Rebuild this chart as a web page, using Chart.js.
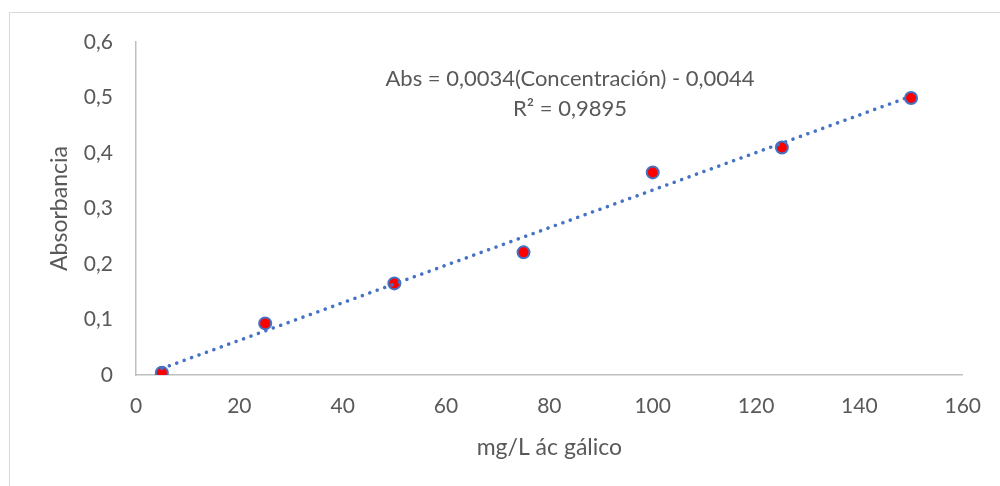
<!DOCTYPE html>
<html>
<head>
<meta charset="utf-8">
<script src="https://cdn.jsdelivr.net/npm/chart.js@4"></script>
<style>
  html, body { margin: 0; padding: 0; background: #fff; overflow: hidden; }
  #wrap { position: relative; width: 1000px; height: 486px; }
  #frame { position: absolute; left: 9px; top: 12px; width: 1100px; height: 600px; border: 1px solid #d9d9d9; }
  canvas { position: absolute; left: 0; top: 0; }
</style>
</head>
<body>
<div id="wrap">
  <div id="frame"></div>
  <canvas id="chart" width="1000" height="486"></canvas>
</div>
<script>
// Data
const concentracion = [5, 25, 50, 75, 100, 125, 150];
const absorbancia = [0.004, 0.093, 0.165, 0.221, 0.365, 0.410, 0.499];
const xTicks = [0, 20, 40, 60, 80, 100, 120, 140, 160];
const yTicks = [0, 0.1, 0.2, 0.3, 0.4, 0.5, 0.6];
const ecuacion = 'Abs = 0,0034(Concentración) - 0,0044';
const r2Texto = 'R² = 0,9895';

const FONT = 'Lato, "Open Sans", sans-serif';
const GRIS = '#595959';
const AZUL = '#4472c4';

// Linear trendline (least squares, same as the spreadsheet does)
function tendencia(xs, ys) {
    const n = xs.length;
    const mx = xs.reduce((a, b) => a + b, 0) / n;
    const my = ys.reduce((a, b) => a + b, 0) / n;
    let sxy = 0, sxx = 0;
    for (let i = 0; i < n; i++) {
        sxy += (xs[i] - mx) * (ys[i] - my);
        sxx += (xs[i] - mx) * (xs[i] - mx);
    }
    const m = sxy / sxx;
    const b = my - m * mx;
    const x0 = xs[0], x1 = xs[n - 1];
    return [{ x: x0, y: m * x0 + b }, { x: x1, y: m * x1 + b }];
}

const puntos = concentracion.map((c, i) => ({ x: c, y: absorbancia[i] }));

function coma(v) {
    const r = Math.round(v * 10) / 10;
    return String(r).replace('.', ',');
}

// Equation label placed in data coordinates
const etiqueta = {
    id: 'etiqueta',
    afterDatasetsDraw(chart) {
        const { ctx, scales } = chart;
        const x = scales.x.getPixelForValue(84);
        ctx.save();
        ctx.font = '22px ' + FONT;
        ctx.fillStyle = GRIS;
        ctx.textAlign = 'center';
        ctx.textBaseline = 'middle';
        ctx.fillText(ecuacion, x, scales.y.getPixelForValue(0.533));
        ctx.fillText(r2Texto, x, scales.y.getPixelForValue(0.479));
        ctx.restore();
    }
};

new Chart(document.getElementById('chart').getContext('2d'), {
    type: 'scatter',
    data: {
        datasets: [
            {
                type: 'line',
                data: tendencia(concentracion, absorbancia),
                borderColor: AZUL,
                borderWidth: 3.5,
                borderDash: [0.1, 7.8],
                borderCapStyle: 'round',
                pointRadius: 0,
                fill: false
            },
            {
                data: puntos,
                pointRadius: 6,
                pointBackgroundColor: '#ff0000',
                pointBorderColor: AZUL,
                pointBorderWidth: 2
            }
        ]
    },
    options: {
        responsive: false,
        animation: false,
        layout: { padding: { left: 0, right: 33, top: 42, bottom: 0 } },
        plugins: { legend: { display: false }, tooltip: { enabled: false } },
        scales: {
            x: {
                type: 'linear',
                min: 0,
                max: 160,
                afterBuildTicks: s => { s.ticks = xTicks.map(v => ({ value: v })); },
                afterFit: s => { s.height = 111; },
                grid: { display: false, drawTicks: false },
                border: { display: true, color: '#bfbfbf', width: 1.5 },
                ticks: { color: GRIS, font: { size: 21, family: FONT }, padding: 19, maxRotation: 0 },
                title: {
                    display: true,
                    text: 'mg/L ác gálico',
                    color: GRIS,
                    font: { size: 23, family: FONT },
                    padding: { top: 0, bottom: 25 }
                }
            },
            y: {
                type: 'linear',
                min: 0,
                max: 0.6,
                afterBuildTicks: s => { s.ticks = yTicks.map(v => ({ value: v })); },
                afterFit: s => { s.width = 136; },
                grid: { display: false, drawTicks: false },
                border: { display: true, color: '#bfbfbf', width: 1.5 },
                ticks: { color: GRIS, font: { size: 21, family: FONT }, padding: 23, callback: v => coma(v) },
                title: {
                    display: true,
                    text: 'Absorbancia',
                    color: GRIS,
                    font: { size: 23, family: FONT },
                    padding: { top: 46, bottom: 0 }
                }
            }
        }
    },
    plugins: [etiqueta]
});
</script>
</body>
</html>
